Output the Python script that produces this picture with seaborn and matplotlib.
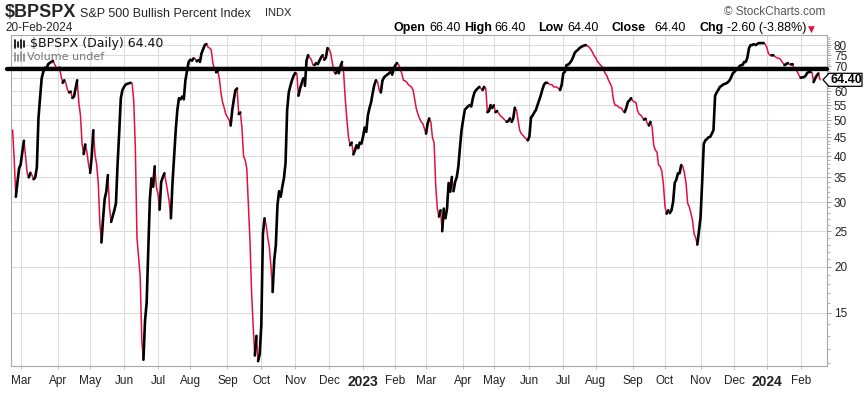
import numpy as np
import pandas as pd
import matplotlib
matplotlib.use("Agg")
import matplotlib.pyplot as plt
from matplotlib.lines import Line2D
from matplotlib.patches import Polygon
from matplotlib.transforms import IdentityTransform
from matplotlib.ticker import FixedLocator, NullFormatter
import seaborn as sns

# ---------------- data ----------------
bpspx_2022 = [
    ("2022-02-22", 47), ("2022-02-23", 39), ("2022-02-24", 31), ("2022-02-25", 34), ("2022-02-28", 37),
    ("2022-03-01", 38), ("2022-03-02", 41), ("2022-03-03", 44), ("2022-03-04", 40), ("2022-03-07", 36),
    ("2022-03-08", 35), ("2022-03-09", 36), ("2022-03-10", 35.5), ("2022-03-11", 34.6), ("2022-03-14", 35),
    ("2022-03-15", 37.2), ("2022-03-16", 50.6), ("2022-03-17", 57.6), ("2022-03-18", 65), ("2022-03-21", 67.7),
    ("2022-03-22", 69.5), ("2022-03-23", 69), ("2022-03-24", 71), ("2022-03-25", 71.6), ("2022-03-28", 72),
    ("2022-03-29", 72.5), ("2022-03-30", 71), ("2022-03-31", 69.5), ("2022-04-01", 69), ("2022-04-04", 69.5),
    ("2022-04-05", 66), ("2022-04-06", 63.2), ("2022-04-07", 64.2), ("2022-04-08", 63), ("2022-04-11", 60.4),
    ("2022-04-12", 59.5), ("2022-04-13", 59.8), ("2022-04-14", 57.5), ("2022-04-18", 58), ("2022-04-19", 61),
    ("2022-04-20", 64.2), ("2022-04-21", 55.9), ("2022-04-22", 51.6), ("2022-04-25", 43.2), ("2022-04-26", 40.5),
    ("2022-04-27", 43), ("2022-04-28", 41), ("2022-04-29", 38), ("2022-05-02", 36), ("2022-05-03", 40),
    ("2022-05-04", 47), ("2022-05-05", 40.4), ("2022-05-06", 38), ("2022-05-09", 34), ("2022-05-10", 26.4),
    ("2022-05-11", 23.3), ("2022-05-12", 27), ("2022-05-13", 30.6), ("2022-05-16", 32), ("2022-05-17", 35.5),
    ("2022-05-18", 29), ("2022-05-19", 26.5), ("2022-05-20", 27.5), ("2022-05-23", 28.5), ("2022-05-24", 29.8),
    ("2022-05-25", 38), ("2022-05-26", 46.3), ("2022-05-27", 57.4), ("2022-05-31", 60.4), ("2022-06-01", 61.6),
    ("2022-06-02", 62.5), ("2022-06-03", 62.8), ("2022-06-06", 63), ("2022-06-07", 63.2), ("2022-06-08", 63),
    ("2022-06-09", 56.6), ("2022-06-10", 42), ("2022-06-13", 24), ("2022-06-14", 21.3), ("2022-06-15", 18.8),
    ("2022-06-16", 12.6), ("2022-06-17", 11.2), ("2022-06-21", 14.3), ("2022-06-22", 16), ("2022-06-23", 22.2),
    ("2022-06-24", 30.6), ("2022-06-27", 34.8), ("2022-06-28", 33), ("2022-06-29", 37.5), ("2022-06-30", 33),
    ("2022-07-01", 31.6), ("2022-07-05", 28.6), ("2022-07-06", 34), ("2022-07-07", 35), ("2022-07-08", 35.9),
    ("2022-07-11", 34), ("2022-07-12", 32), ("2022-07-13", 30), ("2022-07-14", 27.1), ("2022-07-15", 33.8),
    ("2022-07-18", 39.8), ("2022-07-19", 47), ("2022-07-20", 53.3), ("2022-07-21", 57.4), ("2022-07-22", 57),
    ("2022-07-25", 58), ("2022-07-26", 57), ("2022-07-27", 64.2), ("2022-07-28", 68), ("2022-07-29", 72),
    ("2022-08-01", 73), ("2022-08-02", 72.6), ("2022-08-03", 73.6), ("2022-08-04", 73.5), ("2022-08-05", 72.3),
    ("2022-08-08", 72.8), ("2022-08-09", 72), ("2022-08-10", 76), ("2022-08-11", 78), ("2022-08-12", 80),
    ("2022-08-15", 80.5), ("2022-08-16", 79), ("2022-08-17", 78.5), ("2022-08-18", 77.6), ("2022-08-19", 71.5),
    ("2022-08-22", 69), ("2022-08-23", 67.5), ("2022-08-24", 68), ("2022-08-25", 65), ("2022-08-26", 59.4),
    ("2022-08-29", 56), ("2022-08-30", 54.1), ("2022-08-31", 52), ("2022-09-01", 51), ("2022-09-02", 50.2),
    ("2022-09-06", 48.4), ("2022-09-07", 53.3), ("2022-09-08", 57), ("2022-09-09", 60.4), ("2022-09-12", 61),
    ("2022-09-13", 52), ("2022-09-14", 52.5), ("2022-09-15", 47.8), ("2022-09-16", 40), ("2022-09-19", 39),
    ("2022-09-20", 37), ("2022-09-21", 29.4), ("2022-09-22", 23.5), ("2022-09-23", 17), ("2022-09-26", 13.7),
    ("2022-09-27", 11.5), ("2022-09-28", 13), ("2022-09-29", 11.1), ("2022-09-30", 11.6), ("2022-10-03", 13.9),
    ("2022-10-04", 24.6), ("2022-10-05", 27.1), ("2022-10-06", 26), ("2022-10-07", 24), ("2022-10-10", 22.6),
    ("2022-10-11", 20), ("2022-10-12", 17.1), ("2022-10-13", 20.9), ("2022-10-14", 22.9), ("2022-10-17", 29.4),
    ("2022-10-18", 32.1), ("2022-10-19", 31), ("2022-10-20", 33), ("2022-10-21", 34.8), ("2022-10-24", 38.2),
    ("2022-10-25", 53.3), ("2022-10-26", 59.5), ("2022-10-27", 62), ("2022-10-28", 64.2), ("2022-10-31", 66),
    ("2022-11-01", 67.2), ("2022-11-02", 67), ("2022-11-03", 58.3), ("2022-11-04", 61), ("2022-11-07", 63),
    ("2022-11-08", 65), ("2022-11-09", 62), ("2022-11-10", 72.6), ("2022-11-11", 75.1), ("2022-11-14", 74),
    ("2022-11-15", 73), ("2022-11-16", 70.6), ("2022-11-17", 70.6), ("2022-11-18", 71.5), ("2022-11-21", 71),
    ("2022-11-22", 72.6), ("2022-11-23", 74), ("2022-11-25", 75.1), ("2022-11-28", 73), ("2022-11-29", 74),
    ("2022-11-30", 78.5), ("2022-12-01", 78), ("2022-12-02", 76), ("2022-12-05", 71.5), ("2022-12-06", 67.6),
    ("2022-12-07", 67), ("2022-12-08", 68), ("2022-12-09", 67.1), ("2022-12-12", 70), ("2022-12-13", 72),
    ("2022-12-14", 67.1), ("2022-12-15", 57), ("2022-12-16", 50.2), ("2022-12-19", 45), ("2022-12-20", 42.8),
    ("2022-12-21", 43.5), ("2022-12-22", 40.4), ("2022-12-23", 41.5), ("2022-12-27", 42.8), ("2022-12-28", 42),
    ("2022-12-29", 43.5), ("2022-12-30", 43.2),
]
bpspx_2023 = [
    ("2023-01-03", 45.1), ("2023-01-04", 47.8), ("2023-01-05", 46.5), ("2023-01-06", 51.6), ("2023-01-09", 54),
    ("2023-01-10", 56), ("2023-01-11", 59.4), ("2023-01-12", 62.4), ("2023-01-13", 64.2), ("2023-01-17", 63.5),
    ("2023-01-18", 60.4), ("2023-01-19", 59.5), ("2023-01-20", 64), ("2023-01-23", 65.4), ("2023-01-24", 66),
    ("2023-01-25", 66.5), ("2023-01-26", 67), ("2023-01-27", 67.6), ("2023-01-30", 66.5), ("2023-01-31", 69),
    ("2023-02-01", 70.5), ("2023-02-02", 71.5), ("2023-02-03", 70.9), ("2023-02-06", 69), ("2023-02-07", 67),
    ("2023-02-08", 64.2), ("2023-02-09", 64), ("2023-02-10", 63.5), ("2023-02-13", 62.5), ("2023-02-14", 62),
    ("2023-02-15", 61.5), ("2023-02-16", 60.4), ("2023-02-17", 57), ("2023-02-21", 53.7), ("2023-02-22", 52),
    ("2023-02-23", 50.6), ("2023-02-24", 49.5), ("2023-02-27", 49), ("2023-02-28", 47.5), ("2023-03-01", 46),
    ("2023-03-02", 49), ("2023-03-03", 50.6), ("2023-03-06", 49.5), ("2023-03-07", 44.8), ("2023-03-08", 43.5),
    ("2023-03-09", 33.2), ("2023-03-10", 28.8), ("2023-03-13", 27.4), ("2023-03-14", 28.5), ("2023-03-15", 25),
    ("2023-03-16", 28.8), ("2023-03-17", 27.1), ("2023-03-20", 28.8), ("2023-03-21", 33.8), ("2023-03-22", 32),
    ("2023-03-23", 35.1), ("2023-03-24", 32.1), ("2023-03-27", 34), ("2023-03-28", 35), ("2023-03-29", 37.4),
    ("2023-03-30", 42.1), ("2023-03-31", 47), ("2023-04-03", 50.2), ("2023-04-04", 53.3), ("2023-04-05", 54),
    ("2023-04-06", 54.5), ("2023-04-10", 55), ("2023-04-11", 54.5), ("2023-04-12", 57.4), ("2023-04-13", 59.5),
    ("2023-04-14", 60.4), ("2023-04-17", 61), ("2023-04-18", 61.6), ("2023-04-19", 61), ("2023-04-20", 60.4),
    ("2023-04-21", 61.6), ("2023-04-24", 61), ("2023-04-25", 52.6), ("2023-04-26", 53), ("2023-04-27", 55),
    ("2023-04-28", 54), ("2023-05-01", 54.9), ("2023-05-02", 52.6), ("2023-05-03", 53), ("2023-05-04", 52.2),
    ("2023-05-05", 51.5), ("2023-05-08", 51), ("2023-05-09", 50.5), ("2023-05-10", 50), ("2023-05-11", 49.5),
    ("2023-05-12", 49.8), ("2023-05-15", 50.6), ("2023-05-16", 49.5), ("2023-05-17", 50.6), ("2023-05-18", 54.1),
    ("2023-05-19", 53.3), ("2023-05-22", 50), ("2023-05-23", 47), ("2023-05-24", 46), ("2023-05-25", 45.5),
    ("2023-05-26", 45), ("2023-05-30", 44.5), ("2023-05-31", 44.1), ("2023-06-01", 45.1), ("2023-06-02", 50.9),
    ("2023-06-05", 51.5), ("2023-06-06", 52.5), ("2023-06-07", 53.3), ("2023-06-08", 54.9), ("2023-06-09", 56.6),
    ("2023-06-12", 58.3), ("2023-06-13", 60.5), ("2023-06-14", 62.4), ("2023-06-15", 63.2), ("2023-06-16", 63.2),
    ("2023-06-20", 62.8), ("2023-06-21", 62.5), ("2023-06-22", 62.5), ("2023-06-23", 61.6), ("2023-06-26", 61.6),
    ("2023-06-27", 61.5), ("2023-06-28", 61), ("2023-06-29", 60.4), ("2023-06-30", 62.4), ("2023-07-03", 67.1),
    ("2023-07-05", 67.7), ("2023-07-06", 70.6), ("2023-07-07", 70.8), ("2023-07-10", 71.5), ("2023-07-11", 72.5),
    ("2023-07-12", 74), ("2023-07-13", 76.1), ("2023-07-14", 77), ("2023-07-17", 77.6), ("2023-07-18", 78.5),
    ("2023-07-19", 79), ("2023-07-20", 79.5), ("2023-07-21", 79.8), ("2023-07-24", 80), ("2023-07-25", 79.5),
    ("2023-07-26", 79), ("2023-07-27", 78), ("2023-07-28", 76.6), ("2023-07-31", 75), ("2023-08-01", 74),
    ("2023-08-02", 72.5), ("2023-08-03", 71.5), ("2023-08-04", 70.6), ("2023-08-07", 70), ("2023-08-08", 68.5),
    ("2023-08-09", 67), ("2023-08-10", 66), ("2023-08-11", 64.2), ("2023-08-14", 63), ("2023-08-15", 61.6),
    ("2023-08-16", 57), ("2023-08-17", 54.9), ("2023-08-18", 54.9), ("2023-08-21", 54.5), ("2023-08-22", 54),
    ("2023-08-23", 54), ("2023-08-24", 53), ("2023-08-25", 52.6), ("2023-08-28", 54), ("2023-08-29", 56.1),
    ("2023-08-30", 56.6), ("2023-08-31", 57.4), ("2023-09-01", 56.5), ("2023-09-05", 56.1), ("2023-09-06", 55.9),
    ("2023-09-07", 53), ("2023-09-08", 52), ("2023-09-11", 51.6), ("2023-09-12", 50.9), ("2023-09-13", 50.2),
    ("2023-09-14", 50.5), ("2023-09-15", 49), ("2023-09-18", 48.4), ("2023-09-19", 49.5), ("2023-09-20", 48),
    ("2023-09-21", 42.8), ("2023-09-22", 41.5), ("2023-09-25", 41), ("2023-09-26", 37.8), ("2023-09-27", 37.5),
    ("2023-09-28", 36.4), ("2023-09-29", 33.5), ("2023-10-02", 29.1), ("2023-10-03", 27.9), ("2023-10-04", 28.5),
    ("2023-10-05", 28), ("2023-10-06", 28.5), ("2023-10-09", 30), ("2023-10-10", 33.8), ("2023-10-11", 34.5),
    ("2023-10-12", 35.9), ("2023-10-13", 35.9), ("2023-10-16", 37.8), ("2023-10-17", 37.5), ("2023-10-18", 36),
    ("2023-10-19", 33.8), ("2023-10-20", 29.8), ("2023-10-23", 29.1), ("2023-10-24", 28), ("2023-10-25", 26.8),
    ("2023-10-26", 24.6), ("2023-10-27", 24), ("2023-10-30", 23), ("2023-10-31", 25), ("2023-11-01", 27.3),
    ("2023-11-02", 34), ("2023-11-03", 43.2), ("2023-11-06", 44.1), ("2023-11-07", 44.5), ("2023-11-08", 45),
    ("2023-11-09", 45.1), ("2023-11-10", 46), ("2023-11-13", 47), ("2023-11-14", 58.3), ("2023-11-15", 59.5),
    ("2023-11-16", 60.5), ("2023-11-17", 61.6), ("2023-11-20", 62), ("2023-11-21", 62.5), ("2023-11-22", 62.8),
    ("2023-11-24", 63), ("2023-11-27", 63.5), ("2023-11-28", 64.2), ("2023-11-29", 65.5), ("2023-11-30", 67.1),
    ("2023-12-01", 67.7), ("2023-12-04", 68.5), ("2023-12-05", 69), ("2023-12-06", 70), ("2023-12-07", 70.6),
    ("2023-12-08", 70.6), ("2023-12-11", 72), ("2023-12-12", 72), ("2023-12-13", 74), ("2023-12-14", 78.5),
    ("2023-12-15", 80), ("2023-12-18", 80), ("2023-12-19", 80.5), ("2023-12-20", 80), ("2023-12-21", 80.5),
    ("2023-12-22", 81), ("2023-12-26", 81), ("2023-12-27", 81), ("2023-12-28", 81), ("2023-12-29", 80.5),
]
bpspx_2024 = [
    ("2024-01-02", 79), ("2024-01-03", 76), ("2024-01-04", 75.1), ("2024-01-05", 75), ("2024-01-08", 75.1),
    ("2024-01-09", 74.5), ("2024-01-10", 74), ("2024-01-11", 73.6), ("2024-01-12", 73.6), ("2024-01-16", 72.6),
    ("2024-01-17", 71.5), ("2024-01-18", 70.6), ("2024-01-19", 71), ("2024-01-22", 71.5), ("2024-01-23", 71),
    ("2024-01-24", 70.9), ("2024-01-25", 71), ("2024-01-26", 69.1), ("2024-01-29", 68.5), ("2024-01-30", 67.6),
    ("2024-01-31", 66.2), ("2024-02-01", 65.2), ("2024-02-02", 65.4), ("2024-02-05", 65.5), ("2024-02-06", 66),
    ("2024-02-07", 67.2), ("2024-02-08", 67.6), ("2024-02-09", 67.6), ("2024-02-12", 67.4), ("2024-02-13", 63.5),
    ("2024-02-14", 65), ("2024-02-15", 66.2), ("2024-02-16", 67), ("2024-02-20", 64.4),
]

market_holidays = [
    "2022-01-17", "2022-02-21", "2022-04-15", "2022-05-30", "2022-06-20", "2022-07-04", "2022-09-05",
    "2022-11-24", "2022-12-26", "2023-01-02", "2023-01-16", "2023-02-20", "2023-04-07", "2023-05-29",
    "2023-06-19", "2023-07-04", "2023-09-04", "2023-11-23", "2023-12-25", "2024-01-01", "2024-01-15",
    "2024-02-19",
]
month_ticks = pd.date_range("2022-03-01", "2024-02-01", freq="MS")
month_labels = ["Mar", "Apr", "May", "Jun", "Jul", "Aug", "Sep", "Oct", "Nov", "Dec", "2023",
                "Feb", "Mar", "Apr", "May", "Jun", "Jul", "Aug", "Sep", "Oct", "Nov", "Dec", "2024", "Feb"]
y_ticks = [15, 20, 25, 30, 35, 40, 45, 50, 55, 60, 65, 70, 75, 80]
y_hidden = [65]
resistance_level = 68.7
last_close = 64.40

UP = "#000000"
DOWN = "#e2103c"

# ---------------- prepare ----------------
sns.set_theme(style="white")
plt.rcParams["font.family"] = ["Liberation Sans", "DejaVu Sans"]

pairs = bpspx_2022 + bpspx_2023 + bpspx_2024
dates = pd.to_datetime([p[0] for p in pairs])
vals = np.array([p[1] for p in pairs], dtype=float)

tdays = pd.bdate_range("2022-01-03", "2024-03-29", freq="C", holidays=market_holidays)
origin = tdays.searchsorted(pd.Timestamp("2022-03-01"))
tpos = np.array(tdays.searchsorted(dates) - origin, dtype=float)

# runs of up / down moves
dirs = []
prev = "up"
for k in range(1, len(vals)):
    if vals[k] > vals[k - 1]:
        cur = "up"
    elif vals[k] < vals[k - 1]:
        cur = "down"
    else:
        cur = prev
    dirs.append(cur)
    prev = cur
rows = []
run = 0
for k in range(1, len(vals)):
    d = dirs[k - 1]
    if k == 1 or d != dirs[k - 2]:
        run += 1
        rows.append((run, d, tpos[k - 1], vals[k - 1]))
    rows.append((run, d, tpos[k], vals[k]))
seg = pd.DataFrame(rows, columns=["run", "dir", "t", "v"])

# ---------------- figure ----------------
W, H = 864, 395
fig = plt.figure(figsize=(W / 100, H / 100), dpi=100)
fig.patch.set_facecolor("white")
ax = fig.add_axes([11 / W, 1 - 366 / H, (827 - 11) / W, (366 - 35) / H])
ax.set_facecolor("white")

sns.lineplot(data=seg, x="t", y="v", hue="dir", size="dir", units="run", estimator=None,
             sort=False, palette={"up": UP, "down": DOWN}, sizes={"up": 1.9, "down": 1.1},
             legend=False, ax=ax, zorder=3)

ax.set_yscale("log")
ax.set_ylim(10.77, 85.2)
ax.set_xlim(-6.0, 499.3)
ax.set_xlabel("")
ax.set_ylabel("")

# y axis on the right
ax.yaxis.tick_right()
ax.yaxis.set_major_locator(FixedLocator(y_ticks))
ax.set_yticklabels(["" if t in y_hidden else str(t) for t in y_ticks])
minor = [m for m in range(11, 85) if m not in y_ticks]
ax.yaxis.set_minor_locator(FixedLocator(minor))
ax.yaxis.set_minor_formatter(NullFormatter())
ax.tick_params(axis="y", which="major", right=True, left=False, length=3, width=0.7,
               color="#999999", pad=2, labelsize=8.5, labelcolor="#222222")
ax.tick_params(axis="y", which="minor", right=True, left=False, length=2, width=0.6, color="#aaaaaa")

# x axis months
xt = [tdays.searchsorted(m) - origin for m in month_ticks]
ax.set_xticks(xt)
ax.set_xticklabels(month_labels)
ax.tick_params(axis="x", which="major", bottom=True, length=2.5, width=0.7, color="#bbbbbb",
               pad=4, labelsize=8.5, labelcolor="#222222")
for lab in ax.get_xticklabels():
    if lab.get_text() in ("2023", "2024"):
        lab.set_fontweight("bold")
        lab.set_fontsize(10)

ax.grid(True, which="major", color="#dcdcdc", linewidth=0.8)
ax.set_axisbelow(True)
for s in ax.spines.values():
    s.set_color("#a8a8a8")
    s.set_linewidth(0.8)
    s.set_visible(True)

# hand-drawn resistance line
ax.axhline(resistance_level, xmin=-0.005, xmax=1.0, color="black", linewidth=3.1,
           clip_on=False, zorder=6)

# last-price tag on the right
yd = ax.transData.transform((0, last_close))[1]
tag = Polygon([(823, yd), (829, yd + 6.5), (862, yd + 6.5), (862, yd - 6.5), (829, yd - 6.5)],
              closed=True, facecolor="white", edgecolor="black", linewidth=0.9,
              transform=IdentityTransform(), zorder=10)
fig.add_artist(tag)
fig.text(846 / W, yd / H, "64.40", ha="center", va="center", fontsize=9,
         fontweight="bold", color="black", zorder=11)

# ---------------- header texts ----------------
def fx(px):
    return px / W


def fy(py):
    return 1 - py / H


fig.text(fx(5), fy(17), r"\$BPSPX", fontsize=13, fontweight="bold", va="baseline")
fig.text(fx(80), fy(17), "S&P 500 Bullish Percent Index", fontsize=9, va="baseline")
fig.text(fx(265), fy(16), "INDX", fontsize=8, va="baseline")
fig.text(fx(5), fy(31), "20-Feb-2024", fontsize=8.5, va="baseline")
fig.text(fx(825), fy(15), "© StockCharts.com", fontsize=8.5, color="#555555", ha="right", va="baseline")

hdr = [(394, "Open", True), (429, "66.40", False), (464, "High", True), (494, "66.40", False),
       (538, "Low", True), (567, "64.40", False), (612, "Close", True), (654, "64.40", False),
       (699, "Chg", True), (727, "-2.60 (-3.88%)", False)]
for px, txt, bold in hdr:
    fig.text(fx(px), fy(31), txt, fontsize=9, fontweight="bold" if bold else "normal",
             va="baseline", color="black")
fig.text(fx(811), fy(29), "▼", fontsize=6.5, color=DOWN, ha="center", va="center",
         family=["DejaVu Sans"])

# in-chart legend
fig.text(fx(30), fy(44), r"\$BPSPX (Daily) 64.40", fontsize=9, va="center",
         family=["DejaVu Sans"], color="#111111")
fig.text(fx(27), fy(57), "Volume undef", fontsize=8, va="center",
         family=["DejaVu Sans"], color="#777777")
# small legend icons
for x0, y0, y1 in [(15, 40, 48), (18, 42, 47), (21, 40, 48), (24, 41, 47)]:
    fig.add_artist(Line2D([fx(x0), fx(x0)], [fy(y0), fy(y1)], color="black", lw=1.2))
for x0, y0 in [(15, 53), (18, 55), (21, 52), (24, 54)]:
    fig.add_artist(Line2D([fx(x0), fx(x0)], [fy(y0), fy(61)], color="#888888", lw=1.2))

fig.savefig("out.png", dpi=100, facecolor="white")
